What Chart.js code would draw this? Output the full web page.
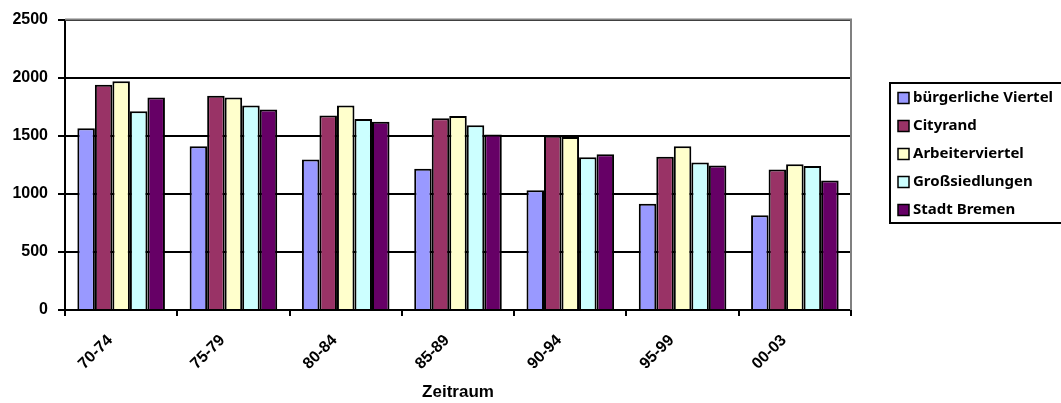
<!DOCTYPE html>
<html>
<head>
<meta charset="utf-8">
<script src="https://cdn.jsdelivr.net/npm/chart.js@4"></script>
<style>
  html, body { margin: 0; padding: 0; background: #fff; }
  #wrap { width: 1061px; height: 403px; position: relative; }
</style>
</head>
<body>
<div id="wrap"><canvas id="c" width="1061" height="403"></canvas></div>
<script>
// Zeiträume (x-Achse)
const periods = ['70-74', '75-79', '80-84', '85-89', '90-94', '95-99', '00-03'];

// Werte je Gebietstyp
const buergerlicheViertel = [1565, 1410, 1295, 1215, 1030, 915, 815];
const cityrand            = [1940, 1845, 1675, 1650, 1500, 1320, 1210];
const arbeiterviertel     = [1970, 1830, 1760, 1670, 1490, 1410, 1255];
const grosssiedlungen     = [1710, 1760, 1645, 1590, 1315, 1270, 1240];
const stadtBremen         = [1830, 1725, 1620, 1510, 1340, 1245, 1115];

const seriesNames = ['bürgerliche Viertel', 'Cityrand', 'Arbeiterviertel', 'Großsiedlungen', 'Stadt Bremen'];
const seriesColors = ['#9999FF', '#993366', '#FFFFCC', '#CCFFFF', '#660066'];
const seriesValues = [buergerlicheViertel, cityrand, arbeiterviertel, grosssiedlungen, stadtBremen];

const yTicks = [0, 500, 1000, 1500, 2000, 2500];

const tickFont = { family: '"Liberation Sans", Arial, sans-serif', size: 16, weight: 'bold' };

// Legende als umrandeter Kasten rechts neben dem Diagramm
const boxLegend = {
  id: 'boxLegend',
  afterDraw(chart) {
    const ctx = chart.ctx;
    const x0 = 890, y0 = 83, w = 172, h = 140;
    ctx.save();
    ctx.fillStyle = '#fff';
    ctx.fillRect(x0, y0, w, h);
    ctx.lineWidth = 2;
    ctx.strokeStyle = '#000';
    ctx.strokeRect(x0, y0, w, h);
    ctx.font = 'bold 15px "Noto Sans", sans-serif';
    ctx.textBaseline = 'middle';
    chart.data.datasets.forEach((ds, i) => {
      const cy = 98 + i * 28;
      ctx.fillStyle = ds.backgroundColor;
      ctx.fillRect(898, cy - 5.5, 11, 11);
      ctx.lineWidth = 1.5;
      ctx.strokeStyle = '#000';
      ctx.strokeRect(898, cy - 5.5, 11, 11);
      ctx.fillStyle = '#000';
      ctx.fillText(ds.label, 913, cy);
    });
    ctx.restore();
  }
};

// Grauer Rahmen oben und rechts um die Zeichenfläche
const plotFrame = {
  id: 'plotFrame',
  afterDatasetsDraw(chart) {
    const { ctx, chartArea: a } = chart;
    ctx.save();
    ctx.strokeStyle = '#808080';
    ctx.lineWidth = 2;
    ctx.beginPath();
    ctx.moveTo(a.left, a.top);
    ctx.lineTo(a.right, a.top);
    ctx.lineTo(a.right, a.bottom);
    ctx.stroke();
    ctx.restore();
  }
};

new Chart(document.getElementById('c'), {
  type: 'bar',
  data: {
    labels: periods,
    datasets: seriesNames.map((name, i) => ({
      label: name,
      data: seriesValues[i],
      backgroundColor: seriesColors[i],
      borderColor: '#000',
      borderWidth: 2,
      borderSkipped: 'bottom',
      categoryPercentage: 0.78,
      barPercentage: 1.0
    }))
  },
  options: {
    responsive: false,
    animation: false,
    devicePixelRatio: 1,
    layout: { padding: { top: 19, right: 210, left: 0, bottom: 0 } },
    plugins: {
      legend: { display: false },
      tooltip: { enabled: false }
    },
    scales: {
      x: {
        offset: true,
        grid: {
          display: true,
          offset: true,
          drawOnChartArea: false,
          color: '#000',
          lineWidth: 2,
          tickLength: 6
        },
        border: { display: true, color: '#000', width: 2 },
        ticks: {
          font: tickFont,
          color: '#000',
          maxRotation: 45,
          minRotation: 45,
          padding: 15,
          labelOffset: -11
        },
        title: {
          display: true,
          text: 'Zeitraum',
          font: { family: '"Liberation Sans", Arial, sans-serif', size: 17, weight: 'bold' },
          color: '#000',
          padding: { top: 0, bottom: 0 }
        },
        afterFit(scale) { scale.height = 93; }
      },
      y: {
        min: 0,
        max: 2500,
        afterBuildTicks(scale) { scale.ticks = yTicks.map(v => ({ value: v })); },
        grid: {
          color: '#000',
          lineWidth: 2,
          tickLength: 7
        },
        border: { display: true, color: '#000', width: 2 },
        ticks: {
          font: tickFont,
          color: '#000',
          padding: 10,
          callback: v => String(v)
        },
        afterFit(scale) { scale.width = 65; }
      }
    }
  },
  plugins: [plotFrame, boxLegend]
});
</script>
</body>
</html>
